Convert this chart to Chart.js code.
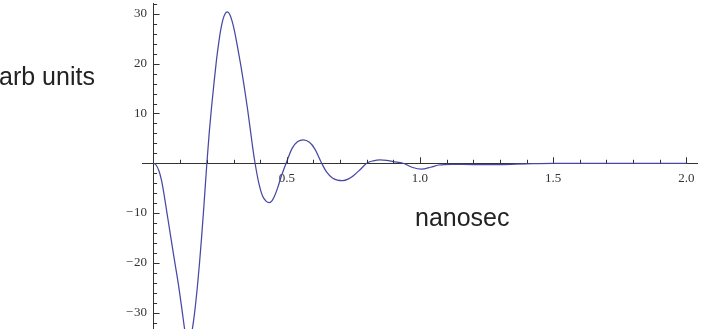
<!DOCTYPE html>
<html>
<head>
<meta charset="utf-8">
<script src="https://cdn.jsdelivr.net/npm/chart.js@4/dist/chart.umd.min.js"></script>
<style>
  html, body { margin: 0; padding: 0; background: #fff; }
  #wrap { position: relative; width: 702px; height: 329px; overflow: hidden; }
  canvas { position: absolute; left: 0; top: 0; }
  .lbl { position: absolute; font-family: "Liberation Sans", Arial, sans-serif; font-size: 25px; line-height: 25px; color: #222; white-space: nowrap; }
</style>
</head>
<body>
<div id="wrap">
  <canvas id="c" width="702" height="329"></canvas>
  <div class="lbl" style="left:-1px; top:64px;">arb units</div>
  <div class="lbl" style="left:415px; top:205px;">nanosec</div>
</div>
<script>
// time in nanoseconds
const times = [0, 0.01, 0.02, 0.03, 0.04, 0.05, 0.065, 0.08, 0.095, 0.108, 0.117, 0.124, 0.131, 0.138, 0.145, 0.154,
  0.164, 0.1725, 0.18, 0.187, 0.194, 0.2,
  0.209, 0.218, 0.2275, 0.236, 0.244, 0.252, 0.26, 0.268, 0.277, 0.286, 0.295, 0.304, 0.314, 0.327, 0.34, 0.353,
  0.365, 0.373, 0.381,
  0.395, 0.41, 0.422, 0.434, 0.445, 0.455, 0.466, 0.477, 0.4875, 0.4975,
  0.52, 0.54, 0.5625, 0.585, 0.605, 0.631, 0.65, 0.67, 0.69, 0.71, 0.73, 0.75, 0.775, 0.8,
  0.825, 0.85, 0.875, 0.9, 0.937, 0.97, 1.006, 1.04, 1.07, 1.12, 1.2, 1.3, 1.4, 1.5, 1.7, 2.0];
// signal in arbitrary units
const values = [0, -0.4, -1.5, -3.5, -6.5, -9.9, -15, -20, -25, -30, -33.5, -35.5, -36.3, -35.5, -33.5, -30,
  -25, -20, -15, -10, -4.6, 0,
  6.2, 11.5, 16.5, 20.7, 24, 26.8, 28.8, 30, 30.4, 29.9, 28.5, 26.5, 23.7, 19.8, 15.5, 10.8,
  6, 2.8, 0,
  -4, -6.7, -7.6, -7.9, -7.5, -6.5, -4.9, -3.0, -1.4, 0,
  3, 4.3, 4.7, 4.2, 2.9, 0, -1.8, -2.9, -3.4, -3.5, -3.2, -2.5, -1.3, 0,
  0.5, 0.7, 0.6, 0.35, 0, -0.8, -1.2, -0.8, -0.35, -0.2, -0.25, -0.25, -0.1, 0, 0, 0];
const xTickValues = [0.5, 1.0, 1.5, 2.0];
const xTickLabels = ["0.5", "1.0", "1.5", "2.0"];
const yTickValues = [-30, -20, -10, 10, 20, 30];
const yTickLabels = ["\u2212\u200A30", "\u2212\u200A20", "\u2212\u200A10", "10", "20", "30"];

const axisColor = '#333';

const tickPlugin = {
  id: 'mmaTicks',
  afterDatasetsDraw(chart) {
    const ctx = chart.ctx;
    const xs = chart.scales.x, ys = chart.scales.y;
    const x0 = xs.getPixelForValue(0), y0 = ys.getPixelForValue(0);
    ctx.save();
    ctx.strokeStyle = axisColor;
    ctx.lineWidth = 1;
    ctx.beginPath();
    // x axis ticks every 0.1, major every 0.5 (pointing up)
    for (let i = 1; i <= 20; i++) {
      const v = i / 10;
      const px = Math.round(xs.getPixelForValue(v)) + 0.5;
      const len = (i % 5 === 0) ? 6 : 3.5;
      ctx.moveTo(px, y0);
      ctx.lineTo(px, y0 - len);
    }
    // y axis ticks every 2, major every 10 (pointing right)
    for (let v = -32; v <= 32; v += 2) {
      if (v === 0) continue;
      const py = Math.round(ys.getPixelForValue(v)) + 0.5;
      const len = (v % 10 === 0) ? 6 : 3.5;
      ctx.moveTo(x0, py);
      ctx.lineTo(x0 + len, py);
    }
    ctx.stroke();
    ctx.restore();
  }
};

function noPadding(scale) {
  scale.paddingTop = 0; scale.paddingBottom = 0;
  scale.paddingLeft = 0; scale.paddingRight = 0;
}

new Chart(document.getElementById('c'), {
  type: 'line',
  data: {
    datasets: [{
      data: times.map((t, i) => ({ x: t, y: values[i] })),
      borderColor: '#4848a4',
      borderWidth: 1.25,
      pointRadius: 0,
      cubicInterpolationMode: 'monotone',
      fill: false
    }]
  },
  options: {
    responsive: false,
    animation: false,
    devicePixelRatio: 1,
    layout: { padding: { left: 142, right: 5, top: 3, bottom: 0 } },
    plugins: { legend: { display: false }, tooltip: { enabled: false } },
    scales: {
      x: {
        type: 'linear',
        min: -0.0435, max: 2.04,
        position: { y: 0 },
        grid: { display: false, drawTicks: false },
        border: { display: true, color: axisColor, width: 1 },
        afterBuildTicks(scale) { scale.ticks = xTickValues.map(v => ({ value: v })); },
        afterFit: noPadding,
        ticks: {
          autoSkip: false, maxRotation: 0, padding: 8,
          color: '#333',
          font: { family: '"Liberation Serif", "Times New Roman", serif', size: 13 },
          callback(value) { const i = xTickValues.indexOf(value); return i >= 0 ? xTickLabels[i] : ''; }
        }
      },
      y: {
        type: 'linear',
        min: -33.3, max: 32.2,
        position: { x: 0 },
        grid: { display: false, drawTicks: false },
        border: { display: true, color: axisColor, width: 1 },
        afterBuildTicks(scale) { scale.ticks = yTickValues.map(v => ({ value: v })); },
        afterFit: noPadding,
        ticks: {
          autoSkip: false,
          color: '#333',
          font: { family: '"Liberation Serif", "Times New Roman", serif', size: 13 },
          callback(value) { const i = yTickValues.indexOf(value); return i >= 0 ? yTickLabels[i] + '\u2002' : ''; }
        }
      }
    }
  },
  plugins: [tickPlugin]
});
</script>
</body>
</html>
